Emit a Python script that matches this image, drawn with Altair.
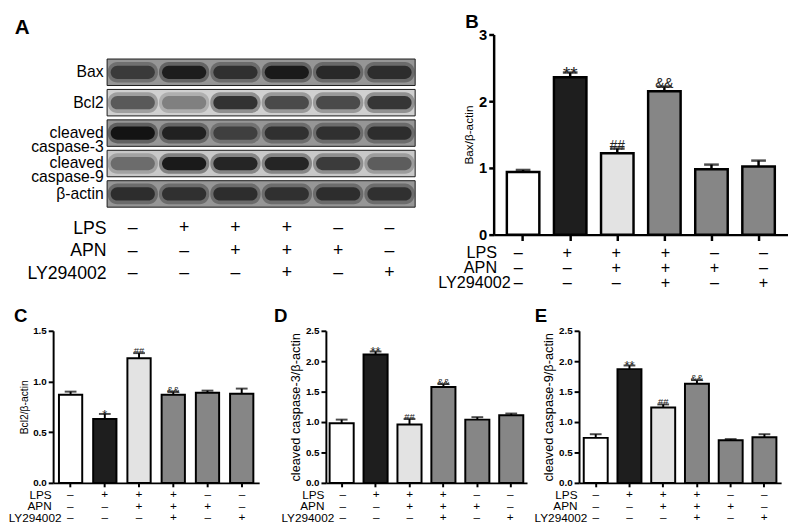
import altair as alt
import pandas as pd

FONT = "Liberation Sans, Arial, Helvetica, sans-serif"

# ---------------- data ----------------
groups = ["G1", "G2", "G3", "G4", "G5", "G6"]
row_names = ["LPS", "APN", "LY294002"]
lps_row = ["\u2013", "+", "+", "+", "\u2013", "\u2013"]
apn_row = ["\u2013", "\u2013", "+", "+", "+", "\u2013"]
ly_row = ["\u2013", "\u2013", "\u2013", "+", "\u2013", "+"]
bar_fills = ["#ffffff", "#1e1e1e", "#e3e3e3", "#868686", "#868686", "#868686"]

bax_mean = [0.94, 2.36, 1.22, 2.15, 0.98, 1.02]
bax_err = [0.03, 0.07, 0.07, 0.07, 0.07, 0.09]
bax_ann = ["", "**", "##", "&&", "", ""]

bcl2_mean = [0.87, 0.63, 1.23, 0.87, 0.89, 0.88]
bcl2_err = [0.03, 0.05, 0.05, 0.03, 0.02, 0.05]
bcl2_ann = ["", "*", "##", "&&", "", ""]

c3_mean = [0.98, 2.11, 0.96, 1.575, 1.04, 1.11]
c3_err = [0.06, 0.05, 0.09, 0.05, 0.04, 0.03]
c3_ann = ["", "**", "##", "&&", "", ""]

c9_mean = [0.74, 1.87, 1.24, 1.63, 0.70, 0.75]
c9_err = [0.06, 0.06, 0.05, 0.06, 0.02, 0.05]
c9_ann = ["", "**", "##", "&&", "", ""]

# western blot (panel A): proteins, lanes, background and band grey levels
blot_proteins = ["Bax", "Bcl2", "cleaved|caspase-3", "cleaved|caspase-9", "\u03b2-actin"]
blot_lanes = ["1", "2", "3", "4", "5", "6"]
blot_bg = [150, 208, 150, 200, 150]
blot_band = [
    [55, 25, 45, 22, 38, 42],
    [85, 125, 45, 70, 70, 50],
    [15, 30, 60, 45, 45, 42],
    [105, 20, 32, 32, 55, 90],
    [42, 45, 42, 45, 42, 45],
]


def grey(v):
    return "#{0:02x}{0:02x}{0:02x}".format(int(v))


def table_chart(W, H, fs, lpad, lpad_ly, po, pi):
    recs = []
    for r, syms in zip(row_names, [lps_row, apn_row, ly_row]):
        for g, s in zip(groups, syms):
            recs.append({"g": g, "row": r, "sym": s})
    return (
        alt.Chart(pd.DataFrame(recs))
        .mark_text(fontSize=fs, font=FONT, color="black")
        .encode(
            x=alt.X("g:N", sort=groups,
                    scale=alt.Scale(paddingInner=pi, paddingOuter=po), axis=None),
            y=alt.Y("row:N", sort=row_names,
                    scale=alt.Scale(paddingInner=0, paddingOuter=0),
                    axis=alt.Axis(title=None, domain=False, ticks=False,
                                  labelFontSize=fs, labelFont=FONT,
                                  labelColor="black",
                                  labelPadding={"condition": {
                                      "test": "datum.value === 'LY294002'",
                                      "value": lpad_ly}, "value": lpad})),
            text="sym:N",
        )
        .properties(width=W, height=H)
    )


def bar_chart(means, errs, ann, ytitle, ymax, ticks, fmt, W, H, po, pi,
              tick_fs, title_fs, star_fs, ann_fs, star_dy, sw, cap, xtick,
              letter, ldx, loff, ldy):
    df = pd.DataFrame({
        "g": groups,
        "m": means,
        "top": [m + e for m, e in zip(means, errs)],
        "fill": bar_fills,
        "ann": ann,
    })
    base = alt.Chart(df)
    yscale = alt.Scale(domain=[0, ymax], nice=False)
    xscale = alt.Scale(paddingInner=pi, paddingOuter=po)
    xaxis = alt.Axis(labels=False, title=None, domainColor="black",
                     domainWidth=sw, tickColor="black", tickWidth=sw,
                     tickSize=xtick)
    yaxis = alt.Axis(values=[float(t) for t in ticks], format=fmt,
                     title=ytitle, grid=False,
                     domainColor="black", domainWidth=sw,
                     tickColor="black", tickWidth=sw, tickSize=5,
                     labelFont=FONT, labelFontWeight="bold",
                     labelFontSize=tick_fs, labelColor="black",
                     labelPadding=2, labelOverlap=False,
                     titleFont=FONT, titleFontWeight="normal",
                     titleFontSize=title_fs, titleColor="black",
                     titlePadding=3)

    def X():
        return alt.X("g:N", sort=groups, scale=xscale, axis=xaxis)

    def Y(field):
        return alt.Y(field, scale=yscale, axis=yaxis)

    bars = base.mark_bar(stroke="black", strokeWidth=sw).encode(
        x=X(), y=Y("m:Q"), fill=alt.Fill("fill:N", scale=None))
    err = base.mark_rule(strokeWidth=sw, color="black").encode(
        x=X(), y=Y("m:Q"), y2="top:Q")
    caps = base.mark_tick(thickness=sw, size=cap, color="black").encode(
        x=X(), y=Y("top:Q"))
    stars = base.transform_filter("indexof(datum.ann, '*') >= 0").mark_text(
        baseline="alphabetic", dy=star_dy, fontSize=star_fs, font=FONT,
        color="#222222").encode(x=X(), y=Y("top:Q"), text="ann:N")
    others = base.transform_filter(
        "datum.ann != '' && indexof(datum.ann, '*') < 0").mark_text(
        baseline="alphabetic", dy=1, fontSize=ann_fs, font=FONT,
        color="#222222").encode(x=X(), y=Y("top:Q"), text="ann:N")
    return alt.layer(bars, err, caps, stars, others).properties(
        width=W, height=H,
        title=alt.TitleParams(letter, anchor="start", frame="group", dx=ldx,
                              dy=ldy, offset=loff, fontSize=19, font=FONT,
                              fontWeight="bold", color="black",
                              baseline="alphabetic"),
    )


def spacer(w, h, title=None):
    c = alt.Chart(pd.DataFrame({"s": [0]})).mark_point(opacity=0)
    if title is not None:
        return c.properties(width=w, height=h, title=title)
    return c.properties(width=w, height=h)


# ---------------- panel A ----------------
A_W, A_H = 314, 151
bg_df = pd.DataFrame({"p": blot_proteins, "bg": [grey(v) for v in blot_bg]})
band_recs = []
for p, levels in zip(blot_proteins, blot_band):
    for lane, lv in zip(blot_lanes, levels):
        band_recs.append({"p": p, "lane": lane, "col": grey(lv)})
band_df = pd.DataFrame(band_recs)

yprot = alt.Y("p:N", sort=blot_proteins,
              scale=alt.Scale(paddingInner=0.13, paddingOuter=0),
              axis=alt.Axis(title=None, domain=False, ticks=False,
                            labelFontSize=16, labelFont=FONT, labelColor="black",
                            labelPadding=4, labelLineHeight=14,
                            labelExpr="split(datum.label, '|')"))
xlane = alt.X("lane:N", sort=blot_lanes,
              scale=alt.Scale(paddingInner=0, paddingOuter=0), axis=None)

blot_bg_layer = alt.Chart(bg_df).mark_rect(stroke="#1a1a1a", strokeWidth=1).encode(
    y=yprot, x=alt.value(0), x2=alt.value("width"),
    fill=alt.Fill("bg:N", scale=None))
halo = alt.Chart(band_df).mark_rect(
    width={"band": 0.98}, height={"band": 0.78}, cornerRadius=10, opacity=0.4
).encode(x=xlane, y=yprot, fill=alt.Fill("col:N", scale=None))
core = alt.Chart(band_df).mark_rect(
    width={"band": 0.86}, height={"band": 0.5}, cornerRadius=7, opacity=0.95
).encode(x=xlane, y=yprot, fill=alt.Fill("col:N", scale=None))

blot = alt.layer(blot_bg_layer, halo, core).properties(width=A_W, height=A_H)

a_title = alt.TitleParams("A", anchor="start", frame="group", dx=-94, dy=21, offset=1,
                          fontSize=21, font=FONT, fontWeight="bold",
                          color="black", baseline="alphabetic")
a_table = table_chart(A_W, 69, 18, 1, 1, 0, 0)
A_block = alt.vconcat(spacer(A_W, 15, a_title), blot, a_table, spacing=9)

# ---------------- panel B ----------------
B_W = 300
B_bars = bar_chart(bax_mean, bax_err, bax_ann, "Bax/\u03b2-actin", 3, [0, 1, 2, 3], "d",
                   B_W, 204, 0.28, 0.31, 15, 12, 19, 14, 8, 2.5, 15, 6,
                   "B", -29, -3.5, 16)
B_block = alt.vconcat(B_bars, table_chart(B_W, 46, 16.5, -3, -17, 0.28, 0.31),
                      spacing=2)

# ---------------- panels C, D, E ----------------
C_W, D_W, E_W, BH = 210, 205, 206, 155
C_bars = bar_chart(bcl2_mean, bcl2_err, bcl2_ann, "Bcl2/\u03b2-actin", 1.5,
                   [0, 0.5, 1.0, 1.5], ".1f", C_W, BH, 0.17, 0.32, 10, 10.5,
                   13, 9.5, 5, 2, 12, 4, "C", -40, 5, 20)
D_bars = bar_chart(c3_mean, c3_err, c3_ann, "cleaved caspase-3/\u03b2-actin", 2.5,
                   [0, 0.5, 1.0, 1.5, 2.0, 2.5], ".1f", D_W, BH, 0.11, 0.29, 10, 13,
                   13, 9.5, 5, 2, 12, 4, "D", -53, 5, 20)
E_bars = bar_chart(c9_mean, c9_err, c9_ann, "cleaved caspase-9/\u03b2-actin", 2.5,
                   [0, 0.5, 1.0, 1.5, 2.0, 2.5], ".1f", E_W, BH, 0.14, 0.29, 10, 13,
                   13, 9.5, 5, 2, 12, 4, "E", -45, 5, 20)

C_block = alt.vconcat(C_bars, table_chart(C_W, 35, 12, 2, -8, 0.17, 0.32), spacing=0)
D_block = alt.vconcat(D_bars, table_chart(D_W, 35, 12, 2, -8, 0.11, 0.29), spacing=0)
E_block = alt.vconcat(E_bars, table_chart(E_W, 35, 12, 2, -8, 0.14, 0.29), spacing=0)

row1 = alt.hconcat(spacer(4, 1), alt.hconcat(A_block, B_block, spacing=21), spacing=-44)
row2 = alt.hconcat(alt.hconcat(C_block, D_block, spacing=15), E_block, spacing=7)

chart = (
    alt.vconcat(row1, row2, spacing=16)
    .properties(padding=0, background="white")
    .configure(font=FONT)
    .configure_view(strokeWidth=0, stroke="transparent")
)

chart.save("out.html", embed_options={"renderer": "svg", "actions": False})
